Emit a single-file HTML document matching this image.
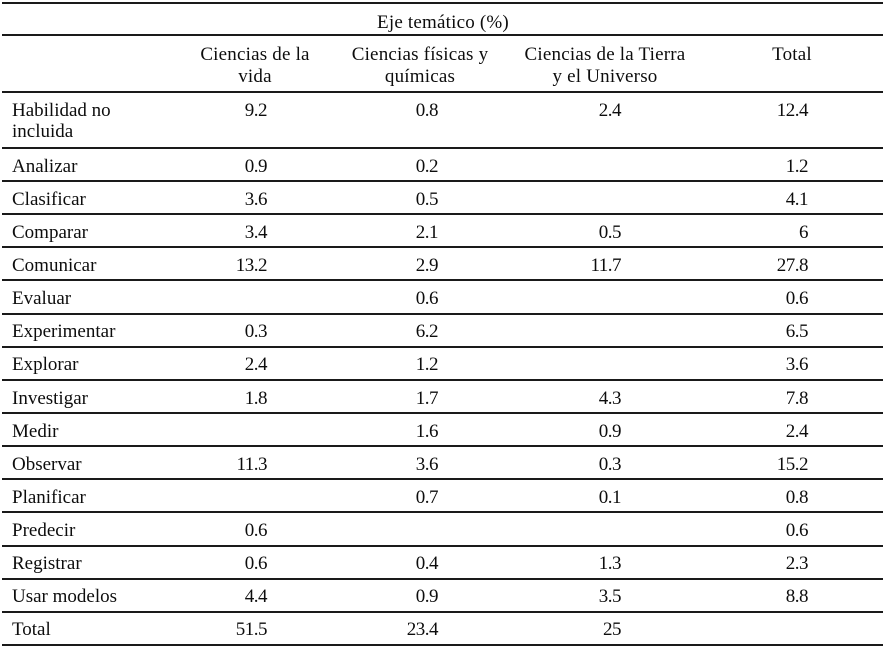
<!DOCTYPE html>
<html>
<head>
<meta charset="utf-8">
<style>
html,body{margin:0;padding:0;background:#fff;}
body{width:883px;height:648px;position:relative;overflow:hidden;font-family:"Liberation Serif","DejaVu Serif",serif;font-size:19px;line-height:21px;color:#0d0d0d;}
.ln{position:absolute;left:2px;width:881px;height:2px;background:#1a1a1a;}
.t{position:absolute;white-space:nowrap;}
.lab{position:absolute;left:12px;top:7.6px;letter-spacing:0px;white-space:nowrap;}
.row{position:absolute;left:0;width:883px;height:33px;}
.n{position:absolute;top:7.6px;text-align:right;white-space:nowrap;letter-spacing:-0.5px;}
.c1{right:616px;}
.c2{right:445px;}
.c3{right:262px;}
.c4{right:75px;}
.h{position:absolute;top:44.1px;text-align:center;line-height:21.5px;letter-spacing:0.2px;white-space:nowrap;}
</style>
</head>
<body>
<!-- horizontal rules -->
<div class="ln" style="top:2px"></div>
<div class="ln" style="top:34px"></div>
<div class="ln" style="top:91px"></div>
<div class="ln" style="top:147px"></div>
<div class="ln" style="top:180px"></div>
<div class="ln" style="top:213px"></div>
<div class="ln" style="top:246px"></div>
<div class="ln" style="top:279px"></div>
<div class="ln" style="top:313px"></div>
<div class="ln" style="top:346px"></div>
<div class="ln" style="top:379px"></div>
<div class="ln" style="top:412px"></div>
<div class="ln" style="top:445px"></div>
<div class="ln" style="top:478px"></div>
<div class="ln" style="top:511px"></div>
<div class="ln" style="top:545px"></div>
<div class="ln" style="top:578px"></div>
<div class="ln" style="top:611px"></div>
<div class="ln" style="top:644px"></div>

<!-- header -->
<div class="t" style="left:343px;width:200px;top:11.6px;text-align:center;letter-spacing:0.2px;">Eje temático (%)</div>
<div class="h" style="left:155px;width:200px;">Ciencias de la<br>vida</div>
<div class="h" style="left:320px;width:200px;">Ciencias físicas y<br>químicas</div>
<div class="h" style="left:485px;width:240px;">Ciencias de la Tierra<br>y el Universo</div>
<div class="h" style="left:742px;width:100px;">Total</div>

<!-- rows -->
<div class="row" style="top:92px;height:56px;"><div class="lab">Habilidad no<br>incluida</div><div class="n c1">9.2</div><div class="n c2">0.8</div><div class="n c3">2.4</div><div class="n c4">12.4</div></div>
<div class="row" style="top:148px;"><div class="lab">Analizar</div><div class="n c1">0.9</div><div class="n c2">0.2</div><div class="n c4">1.2</div></div>
<div class="row" style="top:181.13px;"><div class="lab">Clasificar</div><div class="n c1">3.6</div><div class="n c2">0.5</div><div class="n c4">4.1</div></div>
<div class="row" style="top:214.26px;"><div class="lab">Comparar</div><div class="n c1">3.4</div><div class="n c2">2.1</div><div class="n c3">0.5</div><div class="n c4">6</div></div>
<div class="row" style="top:247.39px;"><div class="lab">Comunicar</div><div class="n c1">13.2</div><div class="n c2">2.9</div><div class="n c3">11.7</div><div class="n c4">27.8</div></div>
<div class="row" style="top:280.52px;"><div class="lab">Evaluar</div><div class="n c2">0.6</div><div class="n c4">0.6</div></div>
<div class="row" style="top:313.65px;"><div class="lab">Experimentar</div><div class="n c1">0.3</div><div class="n c2">6.2</div><div class="n c4">6.5</div></div>
<div class="row" style="top:346.78px;"><div class="lab">Explorar</div><div class="n c1">2.4</div><div class="n c2">1.2</div><div class="n c4">3.6</div></div>
<div class="row" style="top:379.91px;"><div class="lab">Investigar</div><div class="n c1">1.8</div><div class="n c2">1.7</div><div class="n c3">4.3</div><div class="n c4">7.8</div></div>
<div class="row" style="top:413.04px;"><div class="lab">Medir</div><div class="n c2">1.6</div><div class="n c3">0.9</div><div class="n c4">2.4</div></div>
<div class="row" style="top:446.17px;"><div class="lab">Observar</div><div class="n c1">11.3</div><div class="n c2">3.6</div><div class="n c3">0.3</div><div class="n c4">15.2</div></div>
<div class="row" style="top:479.3px;"><div class="lab">Planificar</div><div class="n c2">0.7</div><div class="n c3">0.1</div><div class="n c4">0.8</div></div>
<div class="row" style="top:512.43px;"><div class="lab">Predecir</div><div class="n c1">0.6</div><div class="n c4">0.6</div></div>
<div class="row" style="top:545.56px;"><div class="lab">Registrar</div><div class="n c1">0.6</div><div class="n c2">0.4</div><div class="n c3">1.3</div><div class="n c4">2.3</div></div>
<div class="row" style="top:578.69px;"><div class="lab">Usar modelos</div><div class="n c1">4.4</div><div class="n c2">0.9</div><div class="n c3">3.5</div><div class="n c4">8.8</div></div>
<div class="row" style="top:611.82px;"><div class="lab">Total</div><div class="n c1">51.5</div><div class="n c2">23.4</div><div class="n c3">25</div></div>
</body>
</html>
